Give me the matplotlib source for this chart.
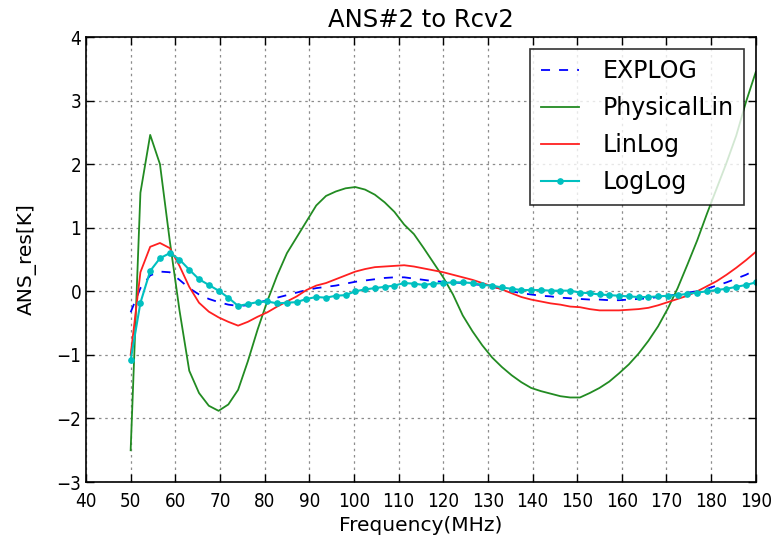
import numpy as np
import matplotlib
matplotlib.use("Agg")
import matplotlib.pyplot as plt

freq = np.linspace(50, 190, 65)

explog = [-0.33, 0.05, 0.25, 0.31, 0.30, 0.18, 0.05, -0.05, -0.12, -0.17,
          -0.21, -0.23, -0.22, -0.18, -0.14, -0.10, -0.06, -0.02, 0.02, 0.05,
          0.07, 0.09, 0.12, 0.15, 0.17, 0.19, 0.21, 0.22, 0.22, 0.20,
          0.18, 0.16, 0.15, 0.14, 0.13, 0.11, 0.10, 0.07, 0.04, 0.00,
          -0.03, -0.05, -0.07, -0.08, -0.10, -0.11, -0.12, -0.13, -0.13, -0.14,
          -0.14, -0.13, -0.12, -0.11, -0.09, -0.07, -0.05, -0.02, 0.00, 0.04,
          0.09, 0.14, 0.20, 0.26, 0.34]

physlin = [-2.50, 1.55, 2.46, 2.00, 0.80, -0.30, -1.25, -1.60, -1.80, -1.88,
           -1.78, -1.55, -1.10, -0.60, -0.15, 0.25, 0.60, 0.85, 1.10, 1.35,
           1.50, 1.57, 1.62, 1.64, 1.60, 1.52, 1.40, 1.25, 1.05, 0.90,
           0.68, 0.45, 0.22, -0.05, -0.38, -0.63, -0.85, -1.04, -1.19, -1.32,
           -1.43, -1.52, -1.57, -1.61, -1.65, -1.67, -1.67, -1.60, -1.52, -1.42,
           -1.29, -1.15, -0.98, -0.78, -0.55, -0.27, 0.05, 0.42, 0.80, 1.22,
           1.62, 2.02, 2.45, 2.98, 3.45]

linlog = [-1.00, 0.30, 0.70, 0.76, 0.68, 0.40, 0.07, -0.18, -0.32, -0.41,
          -0.48, -0.54, -0.48, -0.40, -0.33, -0.24, -0.16, -0.08, 0.02, 0.09,
          0.13, 0.19, 0.25, 0.31, 0.35, 0.38, 0.39, 0.40, 0.41, 0.39,
          0.36, 0.33, 0.30, 0.26, 0.22, 0.18, 0.13, 0.08, 0.03, -0.03,
          -0.09, -0.13, -0.16, -0.19, -0.21, -0.24, -0.25, -0.28, -0.30, -0.30,
          -0.30, -0.29, -0.28, -0.26, -0.22, -0.17, -0.12, -0.07, 0.00, 0.08,
          0.16, 0.26, 0.37, 0.49, 0.62]

loglog = [-1.08, -0.18, 0.32, 0.52, 0.60, 0.50, 0.34, 0.19, 0.10, 0.01,
          -0.10, -0.23, -0.20, -0.17, -0.16, -0.19, -0.18, -0.17, -0.12, -0.09,
          -0.10, -0.07, -0.06, 0.00, 0.03, 0.05, 0.07, 0.09, 0.13, 0.12,
          0.10, 0.12, 0.13, 0.14, 0.14, 0.13, 0.10, 0.09, 0.06, 0.04,
          0.02, 0.02, 0.02, 0.01, 0.01, 0.01, -0.02, -0.03, -0.05, -0.06,
          -0.07, -0.08, -0.09, -0.09, -0.08, -0.07, -0.06, -0.04, -0.02, 0.00,
          0.02, 0.04, 0.07, 0.10, 0.14]

xticks = list(range(40, 191, 10))
yticks = list(range(-3, 5))

plt.rcParams['font.family'] = ['DejaVu Sans']
fig = plt.figure(figsize=(7.72, 5.41), dpi=100, facecolor='white')
ax = fig.add_axes([0.1114, 0.109, 0.8676, 0.8226])

ax.plot(freq, explog, color='#0000ff', linestyle=(0, (5, 5)), linewidth=1.3, label='EXPLOG')
ax.plot(freq, physlin, color='#228b22', linewidth=1.3, label='PhysicalLin')
ax.plot(freq, linlog, color='#ff2020', linewidth=1.3, label='LinLog')
ax.plot(freq, loglog, color='#00c0c0', linewidth=1.5, marker='o', markersize=3.8,
        label='LogLog')

ax.set_xlim(40, 190)
ax.set_ylim(-3, 4)
ax.set_xticks(xticks)
ax.set_yticks(yticks)
ax.tick_params(direction='in', top=True, right=True, labelsize=13.5, length=6, width=1)
ax.tick_params(axis='x', pad=7)
for lab in ax.get_xticklabels() + ax.get_yticklabels():
    lab.set_fontstretch('condensed')
ax.grid(True, color='0.55', linestyle=(0, (2, 3)), linewidth=0.9)
for s in ax.spines.values():
    s.set_linewidth(1.2)

ax.set_title('ANS#2 to Rcv2', fontsize=17.5, pad=7)
ax.set_xlabel('Frequency(MHz)', fontsize=14.5, labelpad=4)
ax.set_ylabel('ANS_res[K]', fontsize=14.5, labelpad=14)

leg = ax.legend(loc='upper right', fontsize=17, frameon=True, fancybox=False,
                edgecolor='black', handlelength=1.6, handletextpad=1.0,
                borderpad=0.45, labelspacing=0.55, borderaxespad=0.5)
leg.get_frame().set_linewidth(1.2)

fig.savefig('out.png', dpi=100, facecolor='white')
